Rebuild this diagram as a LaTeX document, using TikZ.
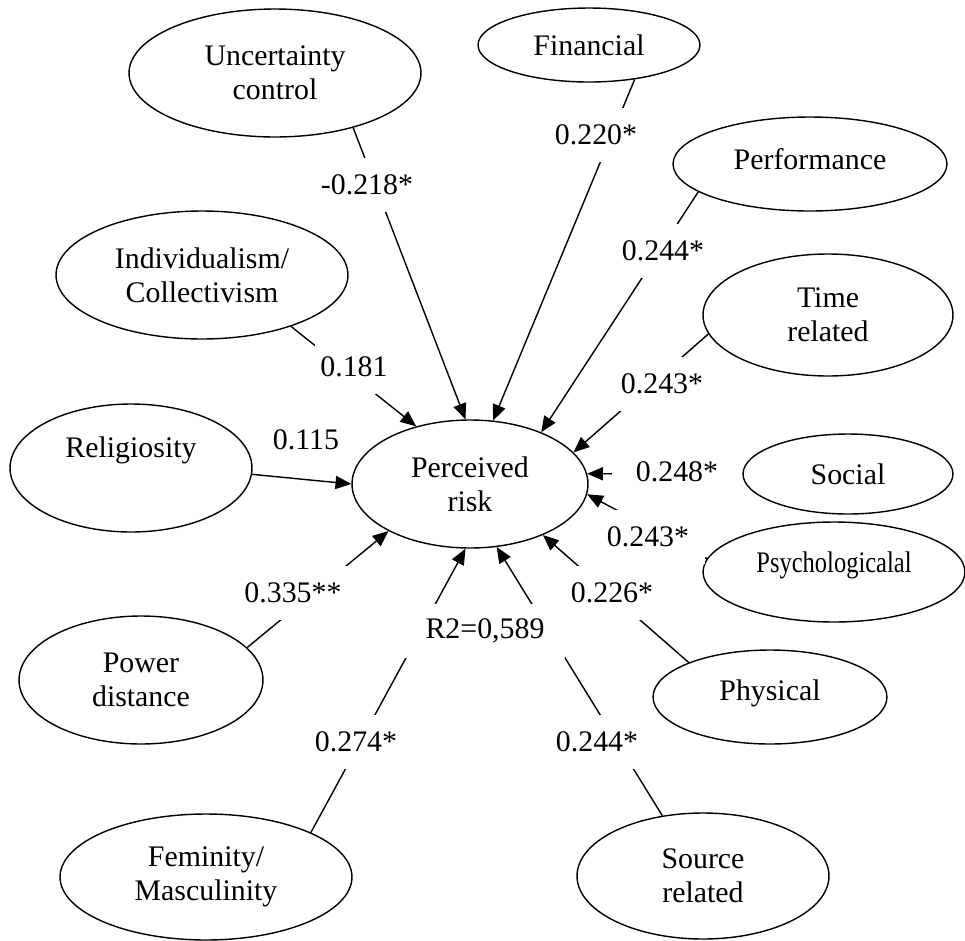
\documentclass[tikz,border=0pt]{standalone}
\usepackage{fontspec}
\setmainfont{Liberation Serif}
\usepackage{graphicx}
\usetikzlibrary{shapes.geometric}
\usetikzlibrary{arrows.meta}

\begin{document}
\begin{tikzpicture}[x=0.02cm, y=-0.02cm,
    latent/.style={draw, ellipse, line width=0.8pt, inner sep=0pt, align=center, font=\fontsize{17}{19.5}\selectfont},
    coef/.style={fill=white, inner xsep=0.1cm, inner ysep=0pt, minimum height=1.08cm, font=\fontsize{17}{19.5}\selectfont},
    link/.style={-{Triangle[length=9pt,width=7.5pt]}, line width=0.8pt}]
            \useasboundingbox (0,0) rectangle (965,941);
            % latent constructs
            \node[latent, minimum width=5.84cm, minimum height=2.56cm] (uc) at (275,73) {Uncertainty\\control};
            \node[latent, minimum width=4.44cm, minimum height=1.48cm] (fin) at (589,45) {Financial};
            \node[latent, minimum width=5.48cm, minimum height=1.88cm, text depth=0.2cm] (perf) at (810,164) {Performance};
            \node[latent, minimum width=5.0cm, minimum height=2.44cm] (tr) at (828,315) {Time\\related};
            \node[latent, minimum width=5.84cm, minimum height=2.56cm] (ic) at (202,275) {Individualism/\\Collectivism};
            \node[latent, minimum width=4.84cm, minimum height=2.56cm, text depth=0.85cm] (rel) at (131,468) {Religiosity};
            \node[latent, minimum width=4.72cm, minimum height=2.56cm] (pr) at (470,484) {Perceived\\risk};
            \node[latent, minimum width=4.2cm, minimum height=1.6cm] (soc) at (848,474) {Social};
            \node[latent, minimum width=5.24cm, minimum height=2.0cm, text depth=0.41cm] (psy) at (834,572) {\scalebox{0.82}[1]{Psychologicalal}};
            \node[latent, minimum width=4.68cm, minimum height=1.88cm, text depth=0.29cm] (phy) at (770,697) {Physical};
            \node[latent, minimum width=5.04cm, minimum height=2.52cm] (src) at (703,876) {Source\\related};
            \node[latent, minimum width=4.88cm, minimum height=2.56cm] (pd) at (141,680) {Power\\distance};
            \node[latent, minimum width=5.84cm, minimum height=2.52cm] (fm) at (206,877) {Feminity/\\Masculinity};

            % paths to perceived risk
            \draw[link] (uc.-35) -- (pr.94);
            \draw[link] (fin.-37) -- (pr.70);
            \draw[link] (perf.-166) -- (pr.36);
            \draw[link] (tr.-171) -- (pr.17);
            \draw[link] (soc.west) -- (pr.5);
            \draw[link] (psy.174) -- (pr.-5);
            \draw[link] (phy.157) -- (pr.-35);
            \draw[link] (src.124) -- (pr.-67);
            \draw[link] (fm.23) -- (pr.-94);
            \draw[link] (pd.17) -- (pr.-150);
            \draw[link] (rel.-3) -- (pr.180);
            \draw[link] (ic.-30) -- (pr.133);

            % coefficients
            \node[coef] (c_uc) at (367,185) {-0.218*};
            \node[coef] (c_fin) at (596,135) {0.220*};
            \node[coef] (c_perf) at (663,251) {0.244*};
            \node[coef] (c_tr) at (662,384) {0.243*};
            \node[coef, minimum width=2.62cm] (c_soc) at (677,472) {0.248*};
            \node[coef, inner xsep=0.32cm] (c_psy) at (648,537) {0.243*};
            \node[coef] (c_phy) at (612,593) {0.226*};
            \node[coef] (c_src) at (597,742) {0.244*};
            \node[coef, minimum width=3.22cm] (r2) at (485,631) {R2=0,589};
            \node[coef] (c_fm) at (356,742) {0.274*};
            \node[coef] (c_pd) at (293,593) {0.335**};
            \node[coef] (c_ic) at (354,367) {0.181};
            \node[coef] (c_rel) at (306,440) {0.115};
        \end{tikzpicture}
\end{document}
